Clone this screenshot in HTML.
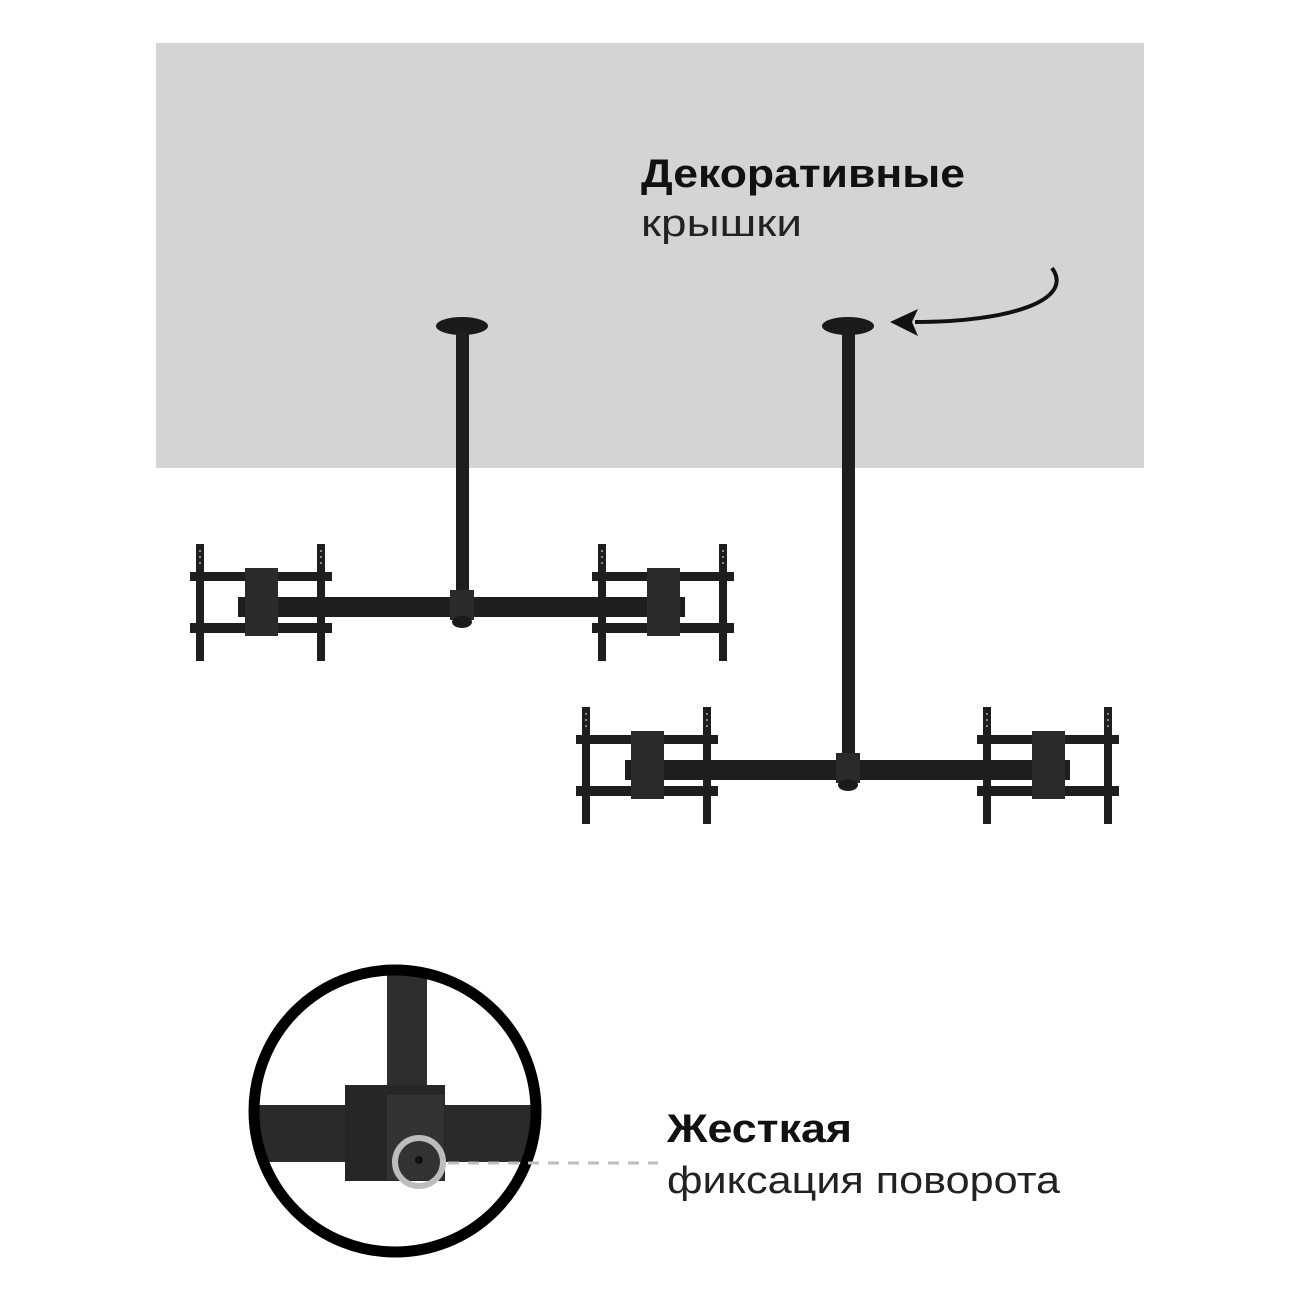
<!DOCTYPE html>
<html><head><meta charset="utf-8"><style>
body{margin:0;background:#fff;}
svg{display:block}
text{font-family:"Liberation Sans",sans-serif;}
</style></head><body>
<svg width="1300" height="1300" viewBox="0 0 1300 1300" xmlns="http://www.w3.org/2000/svg">
<defs>
<g id="unit">
  <rect x="0" y="0" width="142" height="9" fill="#1e1e1e"/>
  <rect x="0" y="51" width="142" height="10" fill="#1e1e1e"/>
  <rect x="6" y="-28" width="8" height="117" fill="#1e1e1e"/>
  <rect x="127" y="-28" width="8" height="117" fill="#1e1e1e"/>
  <rect x="55" y="-4" width="33" height="68" fill="#2a2a2a"/>
  <g fill="#888">
    <rect x="9" y="-22" width="2" height="2"/><rect x="9" y="-16" width="2" height="2"/><rect x="9" y="-10" width="2" height="2"/>
    <rect x="130" y="-22" width="2" height="2"/><rect x="130" y="-16" width="2" height="2"/><rect x="130" y="-10" width="2" height="2"/>
  </g>
</g>
</defs>
<rect x="156" y="43" width="988" height="425" fill="#d4d4d4"/>
<text x="641" y="187" font-size="40" font-weight="bold" fill="#111" textLength="324" lengthAdjust="spacingAndGlyphs">Декоративные</text>
<text x="641" y="236" font-size="38" fill="#222" textLength="161" lengthAdjust="spacingAndGlyphs">крышки</text>
<path d="M1052,268 C1075,300 1010,322 915,322" fill="none" stroke="#111" stroke-width="4"/>
<polygon points="890,322 918,309 912,322 918,336" fill="#111"/>

<ellipse cx="462" cy="326" rx="26" ry="9" fill="#1a1a1a"/>
<rect x="456" y="330" width="13" height="265" fill="#1e1e1e"/>
<rect x="238" y="597" width="447" height="20" fill="#1e1e1e"/>
<rect x="450" y="590" width="24" height="30" fill="#2a2a2a"/>
<ellipse cx="462" cy="622" rx="10" ry="6" fill="#1a1a1a"/>
<use href="#unit" x="190" y="572"/>
<use href="#unit" x="592" y="572"/>

<ellipse cx="848" cy="326" rx="26" ry="9" fill="#1a1a1a"/>
<rect x="842" y="330" width="13" height="430" fill="#1e1e1e"/>
<rect x="625" y="760" width="445" height="20" fill="#1e1e1e"/>
<rect x="836" y="753" width="24" height="30" fill="#2a2a2a"/>
<ellipse cx="848" cy="785" rx="10" ry="6" fill="#1a1a1a"/>
<use href="#unit" x="576" y="735"/>
<use href="#unit" x="977" y="735"/>

<clipPath id="cc"><circle cx="395" cy="1111" r="141"/></clipPath>
<g clip-path="url(#cc)">
  <rect x="250" y="1105" width="300" height="57" fill="#2a2a2a"/>
  <rect x="387" y="960" width="40" height="140" fill="#2e2e2e"/>
  <rect x="345" y="1085" width="100" height="96" fill="#262626"/>
  <rect x="387" y="1095" width="57" height="85" fill="#333"/>
</g>
<circle cx="395" cy="1111" r="141" fill="none" stroke="#000" stroke-width="11"/>
<circle cx="419" cy="1162" r="24" fill="none" stroke="#bdbdbd" stroke-width="6"/>
<circle cx="419" cy="1160" r="4" fill="#111"/>
<line x1="448" y1="1163" x2="658" y2="1163" stroke="#bdbdbd" stroke-width="3" stroke-dasharray="11,9"/>
<text x="667" y="1142" font-size="40" font-weight="bold" fill="#111" textLength="185" lengthAdjust="spacingAndGlyphs">Жесткая</text>
<text x="667" y="1193" font-size="38" fill="#222" textLength="393" lengthAdjust="spacingAndGlyphs">фиксация поворота</text>
</svg>
</body></html>
